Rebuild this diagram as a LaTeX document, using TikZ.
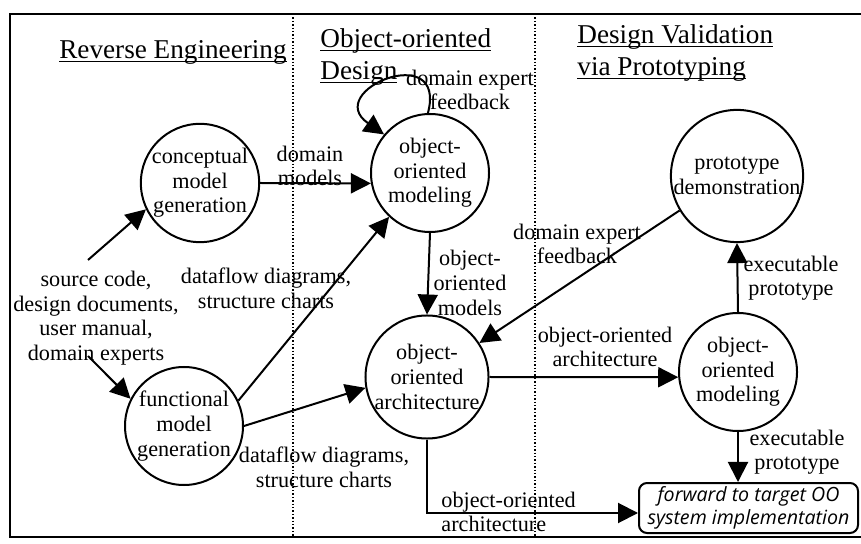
\documentclass[tikz,border=0pt]{standalone}
\usepackage{fontspec}
\setmainfont{Liberation Serif}
\newfontfamily\boxfont{Open Sans}
\usetikzlibrary{arrows.meta}
\newcommand{\uln}[1]{\setbox0\hbox{#1}\rlap{\rule[-2pt]{\wd0}{0.7pt}}\box0}

\begin{document}
\begin{tikzpicture}[x=0.5pt, y=-0.5pt,
    every node/.style={font=\fontsize{11.1}{12.3}\selectfont, align=center, inner sep=0pt},
    proc/.style={draw, circle, line width=1pt, minimum size=59pt},
    head/.style={font=\fontsize{13.6}{16}\selectfont, align=left},
    arr/.style={line width=1pt, -{Triangle[length=10pt, width=10pt]}},
    sep/.style={densely dotted, line width=0.7pt}]
    \useasboundingbox (0,0) rectangle (861,544);
    \draw[line width=1.2pt] (861,14) -- (10,14) -- (10,537) -- (861,537);
    \draw[sep] (293,14) -- (293,537);
    \draw[sep] (535,14) -- (535,537);

    \node[head] (hrev) at (173,52) {\uln{Reverse Engineering}};
    \node[head, anchor=west] (hood) at (320,57) {\uln{Object-oriented}\\\uln{Design}};
    \node[head, anchor=west] (hval) at (577,53) {\uln{Design Validation}\\\uln{via Prototyping}};

    \node[proc] (concept) at (200,183) {conceptual\\model\\generation};
    \node[proc] (funct) at (184,426) {functional\\model\\generation};
    \node[proc] (oomod) at (430,173) {object-\\oriented\\modeling};
    \node[proc] (ooarch) at (427,377) {object-\\oriented\\architecture};
    \node[proc] (proto) at (737,176) {prototype\\demonstration};
    \node[proc] (oomodr) at (738,372) {object-\\oriented\\modeling};
    \node[draw, rounded corners=4pt, line width=1pt, minimum width=109.5pt, minimum height=25pt,
        font={\boxfont\itshape\fontsize{9.8}{11.5}\selectfont}] (fwd) at (748.5,508)
        {forward to target OO\\system implementation};

    \node (src) at (96,318) {source code,\\design documents,\\user manual,\\domain experts};
    \coordinate (srctop) at (88,260);
    \coordinate (srcbot) at (88,356);
    \node (lbldm) at (310,166) {domain\\models};
    \node (lbldf) at (266,288) {dataflow diagrams,\\structure charts};
    \node (lbldfb) at (324,467) {dataflow diagrams,\\structure charts};
    \node (lbloom) at (470,283) {object-\\oriented\\models};
    \node (lblfb) at (577,244) {domain expert\\feedback};
    \node (lblfbs) at (470,90) {domain expert\\feedback};
    \node (lbloa) at (605,347) {object-oriented\\architecture};
    \node (lblex) at (791,278) {executable\\prototype};
    \node (lblexb) at (797,452) {executable\\prototype};
    \node[anchor=west, align=left] (lbloab) at (441,512) {object-oriented\\architecture};

    \draw[arr] (srctop) -- (concept.206);
    \draw[arr] (srcbot) -- (funct.153);
    \draw[arr] (concept.east) -- (oomod.190);
    \draw[arr] (funct.25) -- (oomod.227);
    \draw[arr] (funct.east) -- (ooarch.190);
    \draw[arr] (oomod.92) to[out=75, in=145, looseness=4] (oomod.140);
    \draw[arr] (oomod.south) -- (ooarch.north);
    \draw[arr] (proto.211) -- (ooarch.33);
    \draw[arr] (ooarch.east) -- (oomodr.185);
    \draw[arr] (oomodr.north) -- (proto.south);
    \draw[arr] (oomodr.south) -- (oomodr.south |- fwd.north);
    \draw[arr] (ooarch.south) |- ([yshift=-2.5pt]fwd.west);
\end{tikzpicture}
\end{document}
